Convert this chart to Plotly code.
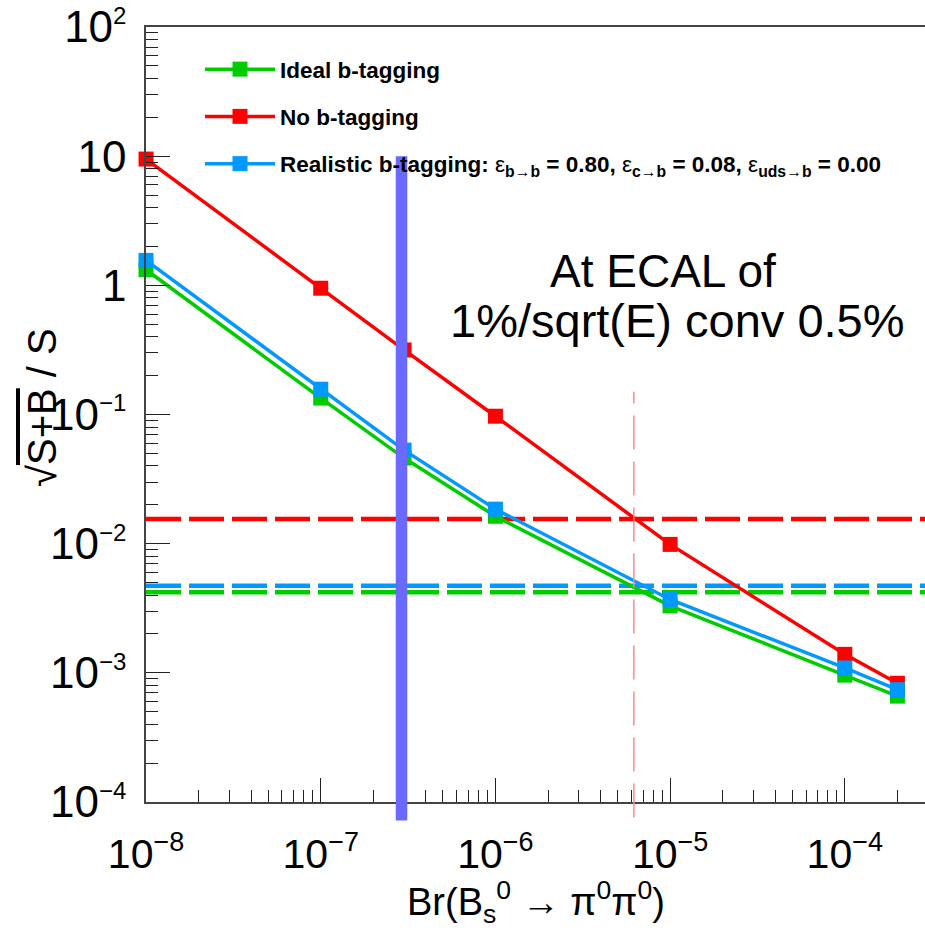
import math
import plotly.graph_objects as go

# ---------------- data ----------------
br = [1e-8, 1e-7, 3e-7, 1e-6, 1e-5, 1e-4, 2e-4]
ideal = [1.32, 0.134, 0.046, 0.0163, 0.0033, 0.00096, 0.00066]
no_btag = [9.5, 0.95, 0.316, 0.097, 0.00987, 0.00139, 0.00083]
realistic = [1.56, 0.157, 0.053, 0.0185, 0.0037, 0.00109, 0.00074]

series_names = [
    "Ideal b-tagging",
    "No b-tagging",
    "Realistic b-tagging:",
]
eff_labels = ["b→b", "c→b", "uds→b"]
eff_values = ["0.80", "0.08", "0.00"]

# horizontal reference levels (dashed)
thr_ideal = 0.0042
thr_no = 0.0155
thr_real = 0.00472

# vertical markers
br_line = 2.9e-7          # thick blue vertical line
br_line_top = 10.0
br_cross = 6.2e-6         # thin dashed pink line
br_cross_top = 0.15

ann_lines = ["At ECAL of", "1%/sqrt(E) conv 0.5%"]

# tick labels
x_tickvals = [1e-8, 1e-7, 1e-6, 1e-5, 1e-4]
x_tickexp = ["−8", "−7", "−6", "−5", "−4"]
y_tickvals = [1e-4, 1e-3, 1e-2, 1e-1, 1, 10, 100]
y_tickexp = ["−4", "−3", "−2", "−1", None, None, "2"]
y_tickplain = [None, None, None, None, "1", "10", None]

# ---------------- style ----------------
GREEN = "#00cc00"
RED = "#ff0000"
BLUE = "#0099ff"
VIOLET = "#6a6aff"
PINK = "#ff8a8a"

W, H = 925, 932
ML, MR, MT, MB = 146, 0, 27, 130
PW, PH = W - ML - MR, H - MT - MB
XMIN = -8.0
XMAX = XMIN + PW / 174.7
YMIN, YMAX = -4.0, 2.0
EPS_R = 2e-4


def px(x):
    return (x - ML) / PW


def py(y):
    return (H - MB - y) / PH


def yfrac(v):
    return (math.log10(v) - YMIN) / (YMAX - YMIN)


def sup_label(exp, size):
    return f"10<sup><span style='font-size:{size}px'>{exp}</span></sup>"


x_ticktext = [sup_label(e, 27) for e in x_tickexp]
y_ticktext = [p if p is not None else sup_label(e, 24) for e, p in zip(y_tickexp, y_tickplain)]

fig = go.Figure()

# dashed horizontal levels
for lvl, col in [(thr_no, RED), (thr_real, BLUE), (thr_ideal, GREEN)]:
    fig.add_shape(type="line", xref="paper", yref="y", x0=0, x1=1, y0=lvl, y1=lvl,
                  line=dict(color=col, width=4.5, dash="35px,8px"), layer="below")

eps = "<span style='font-weight:normal'>ε</span>"
real_name = "Realistic b-tagging: " + ", ".join(
    f"{eps}<sub>{l}</sub> = {v}" for l, v in zip(eff_labels, eff_values))

for name, vals, col in [(series_names[0], ideal, GREEN),
                        (series_names[1], no_btag, RED),
                        (real_name, realistic, BLUE)]:
    fig.add_trace(go.Scatter(
        x=br, y=vals, mode="lines+markers", name=name, legendgroup=name,
        line=dict(color=col, width=3.5),
        marker=dict(symbol="square", size=15, color=col),
        cliponaxis=False,
    ))

# vertical lines
fig.add_shape(type="line", xref="x", yref="paper", x0=br_line, x1=br_line,
              y0=-0.024, y1=yfrac(br_line_top),
              line=dict(color=VIOLET, width=11.5), layer="above")
fig.add_shape(type="line", xref="x", yref="paper", x0=br_cross, x1=br_cross,
              y0=-0.02, y1=yfrac(br_cross_top),
              line=dict(color=PINK, width=1.5, dash="34px,12px"), layer="above")

# text annotations
fig.add_annotation(text=ann_lines[0], xref="paper", yref="paper", x=px(663), y=py(271),
                   showarrow=False, xanchor="center", yanchor="middle",
                   font=dict(family="Liberation Sans, Arial", size=46, color="black"))
fig.add_annotation(text=ann_lines[1], xref="paper", yref="paper", x=px(677), y=py(320),
                   showarrow=False, xanchor="center", yanchor="middle",
                   font=dict(family="Liberation Sans, Arial", size=47, color="black"))

# axis titles
fig.add_annotation(text="√<span style='text-decoration:overline'>S+B</span> / S",
                   xref="paper", yref="paper", x=px(42), y=py(408), textangle=-90,
                   showarrow=False, xanchor="center", yanchor="middle",
                   font=dict(family="Liberation Sans, Arial", size=40, color="black"))
fig.add_annotation(text="Br(B<sub>s</sub><sup>0</sup> → π<sup>0</sup>π<sup>0</sup>)",
                   xref="paper", yref="paper", x=px(536), y=py(902),
                   showarrow=False, xanchor="center", yanchor="middle",
                   font=dict(family="Liberation Sans, Arial", size=38, color="black"))

fig.update_layout(
    width=W, height=H,
    margin=dict(l=ML, r=MR, t=MT, b=MB, pad=0),
    plot_bgcolor="white", paper_bgcolor="white",
    showlegend=True,
    legend=dict(x=px(200), y=py(48), xanchor="left", yanchor="top",
                bgcolor="rgba(0,0,0,0)", borderwidth=0,
                font=dict(family="Liberation Sans, Arial", size=22.5, color="black", weight="bold"),
                itemwidth=70, tracegroupgap=15, traceorder="grouped"),
    xaxis=dict(type="log", range=[XMIN - EPS_R, XMAX], tickmode="array",
               tickvals=x_tickvals, ticktext=x_ticktext,
               showgrid=False, zeroline=False,
               showline=True, linecolor="#444", linewidth=1.5, mirror=True,
               ticks="inside", ticklen=24, tickwidth=1.2, tickcolor="#222",
               minor=dict(ticks="inside", ticklen=12, tickwidth=1.2, tickcolor="#222", dtick="D1"),
               tickfont=dict(family="Liberation Sans, Arial", size=41, color="black"),
               ticklabelstandoff=15, ticklabeloverflow="allow"),
    yaxis=dict(type="log", range=[YMIN - EPS_R, YMAX + EPS_R], tickmode="array",
               tickvals=y_tickvals, ticktext=y_ticktext,
               showgrid=False, zeroline=False,
               showline=True, linecolor="#444", linewidth=1.5, mirror=False,
               ticks="inside", ticklen=24, tickwidth=1.2, tickcolor="#222",
               minor=dict(ticks="inside", ticklen=12, tickwidth=1.2, tickcolor="#222", dtick="D1"),
               tickfont=dict(family="Liberation Sans, Arial", size=44, color="black"),
               ticklabelstandoff=9, ticklabeloverflow="allow"),
)

fig.write_html("out.html")
